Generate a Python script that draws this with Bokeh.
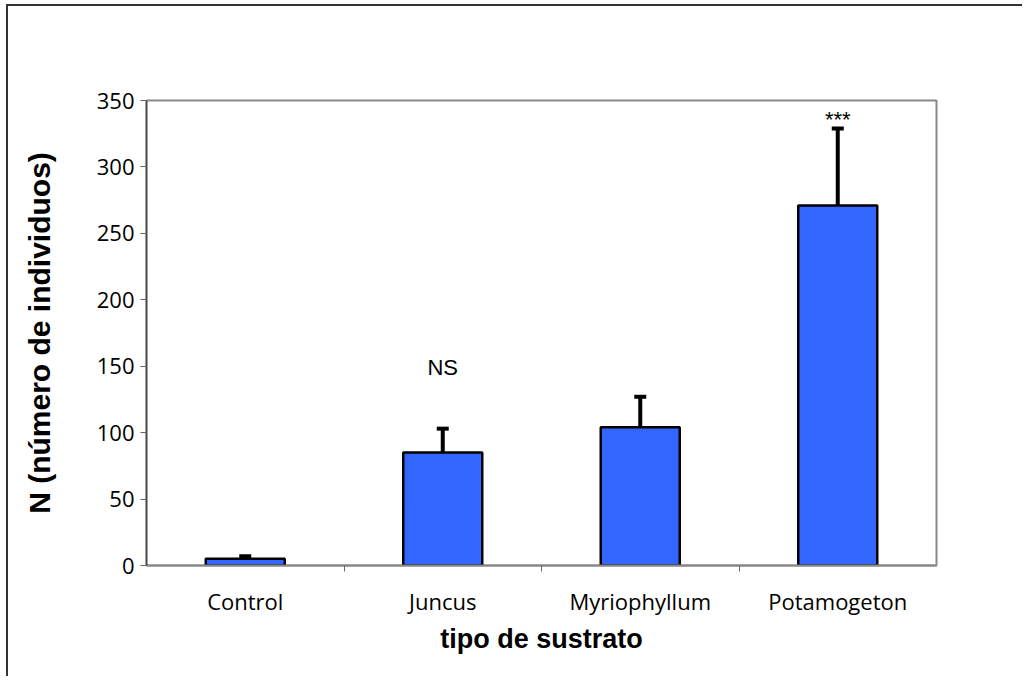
from bokeh.plotting import figure
from bokeh.models import FixedTicker, Whisker, TeeHead, ColumnDataSource, Range1d, LabelSet
from bokeh.core.properties import value
from bokeh.embed import file_html
from bokeh.resources import INLINE

categories = ["Control", "Juncus", "Myriophyllum", "Potamogeton"]
means = [5, 85, 104, 271]
errors = [2, 18, 23, 58]
annotations = ["", "NS", "", "***"]
annot_offset = [0, 37, 0, -3]
y_ticks = [0, 50, 100, 150, 200, 250, 300, 350]

xpos = [i + 0.5 for i in range(len(categories))]
tops = [m + e for m, e in zip(means, errors)]
src = ColumnDataSource(dict(x=xpos, mean=means, top=tops, cat=categories,
                            ann=annotations,
                            ann_y=[t + o for t, o in zip(tops, annot_offset)]))

p = figure(width=1016, height=672, output_backend="svg", toolbar_location=None,
           x_range=Range1d(0, 4), y_range=Range1d(0, 350),
           min_border_left=138, min_border_right=88, min_border_top=94, min_border_bottom=113)
p.styles = {"border-top": "2px solid #333333", "border-left": "2px solid #333333",
            "margin-left": "6px", "margin-top": "4px"}
p.outline_line_color = "#888888"
p.outline_line_width = 2
p.xgrid.visible = False
p.ygrid.visible = False

p.vbar(x="x", top="mean", bottom=0, width=0.4, source=src,
       fill_color="#3366FF", line_color="black", line_width=2.5)

w = Whisker(base="x", upper="top", lower="mean", source=src, dimension="height",
            line_color="black", line_width=4,
            upper_head=TeeHead(size=12, line_color="black", line_width=4),
            lower_head=None, level="underlay")
p.add_layout(w)

p.add_layout(LabelSet(x="x", y="ann_y", text="ann", source=src, text_align="center",
                      text_baseline="bottom", text_font=value("Liberation Sans"),
                      text_font_size="22px", text_color="black"))

# x axis
p.xaxis.ticker = FixedTicker(ticks=xpos, minor_ticks=[1, 2, 3])
p.xaxis.major_label_overrides = {x: c for x, c in zip(xpos, categories)}
p.xaxis.major_tick_out = 0
p.xaxis.major_tick_in = 0
p.xaxis.minor_tick_out = 6
p.xaxis.minor_tick_in = 0
p.xaxis.minor_tick_line_color = "#666666"
p.xaxis.axis_line_color = "#888888"
p.xaxis.axis_line_width = 2
p.xaxis.major_label_standoff = 14
p.xaxis.axis_label = "tipo de sustrato"
p.xaxis.axis_label_standoff = 5

# y axis
p.yaxis.ticker = FixedTicker(ticks=y_ticks, minor_ticks=[])
p.yaxis.major_tick_out = 6
p.yaxis.major_tick_in = 0
p.yaxis.major_tick_line_color = "#666666"
p.yaxis.axis_line_color = "#444444"
p.yaxis.axis_line_width = 1.5
p.yaxis.major_label_standoff = 6
p.yaxis.axis_label = "N (número de individuos)"
p.yaxis.axis_label_standoff = 38

for ax in (p.xaxis, p.yaxis):
    ax.major_label_text_font = "Open Sans"
    ax.major_label_text_font_size = "22px"
    ax.major_label_text_color = "black"
    ax.axis_label_text_font = "Liberation Sans"
    ax.axis_label_text_font_style = "bold"
    ax.axis_label_text_color = "black"
p.xaxis.axis_label_text_font_size = "27px"
p.yaxis.axis_label_text_font_size = "30px"

open("out.html", "w").write(file_html(p, INLINE))
